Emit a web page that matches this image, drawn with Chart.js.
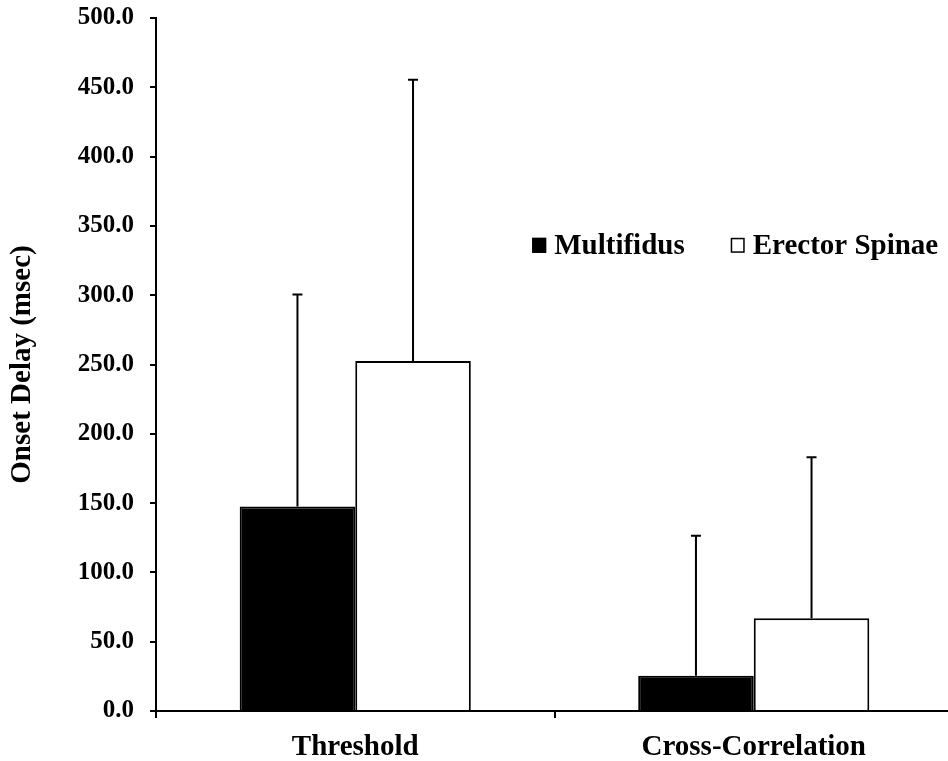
<!DOCTYPE html>
<html>
<head>
<meta charset="utf-8">
<script src="https://cdn.jsdelivr.net/npm/chart.js@4.4.0/dist/chart.umd.min.js"></script>
<style>
  html, body { margin: 0; padding: 0; background: #fff; overflow: hidden; }
  #wrap { width: 956px; height: 761px; position: relative; }
</style>
</head>
<body>
<div id="wrap"><canvas id="chart"></canvas></div>
<script>
// Data
const categories = ['Threshold', 'Cross-Correlation'];
const seriesNames = ['Multifidus', 'Erector Spinae'];
const multifidusMean = [147.5, 25.5];
const multifidusSD = [153.0, 101.0];
const erectorMean = [252.5, 67.0];
const erectorSD = [203.0, 116.0];
const yTicks = [0, 50, 100, 150, 200, 250, 300, 350, 400, 450, 500];

const FONT = 'Liberation Serif, Times New Roman, serif';
const ctx = document.getElementById('chart').getContext('2d');

// error bars, upper side only
const errorBars = {
    id: 'errorBars',
    afterDatasetsDraw(chart) {
        const c = chart.ctx;
        const y = chart.scales.y;
        chart.data.datasets.forEach((ds, i) => {
            const meta = chart.getDatasetMeta(i);
            meta.data.forEach((bar, j) => {
                const top = y.getPixelForValue(ds.data[j] + ds.sd[j]);
                c.save();
                c.strokeStyle = '#000';
                c.lineWidth = 2;
                c.beginPath();
                c.moveTo(bar.x, bar.y);
                c.lineTo(bar.x, top);
                c.moveTo(bar.x - 5, top);
                c.lineTo(bar.x + 5, top);
                c.stroke();
                c.restore();
            });
        });
    }
};

// legend drawn inside the plot
const innerLegend = {
    id: 'innerLegend',
    afterDraw(chart) {
        const c = chart.ctx;
        const area = chart.chartArea;
        let x = area.left + (area.right - area.left) * 0.472;
        const yMid = area.top + (area.bottom - area.top) * 0.328;
        const gaps = [0, 46];
        c.save();
        c.font = 'bold 29px ' + FONT;
        c.textBaseline = 'middle';
        chart.data.datasets.forEach((ds, i) => {
            x += gaps[i];
            c.fillStyle = ds.backgroundColor;
            c.fillRect(x, yMid - 7.5, 14, 15);
            c.strokeStyle = '#000';
            c.lineWidth = 1.5;
            c.strokeRect(x + 0.75, yMid - 6.75, 12.5, 13.5);
            c.fillStyle = '#000';
            c.fillText(ds.label, x + 22, yMid + 1);
            x += 22 + c.measureText(ds.label).width;
        });
        c.restore();
    }
};

new Chart(ctx, {
    type: 'bar',
    data: {
        labels: categories,
        datasets: [
            {
                label: seriesNames[0],
                data: multifidusMean,
                sd: multifidusSD,
                backgroundColor: '#000000',
                borderColor: '#000000',
                borderWidth: 2,
                categoryPercentage: 0.58,
                barPercentage: 1.0
            },
            {
                label: seriesNames[1],
                data: erectorMean,
                sd: erectorSD,
                backgroundColor: '#ffffff',
                borderColor: '#000000',
                borderWidth: 2,
                categoryPercentage: 0.58,
                barPercentage: 1.0
            }
        ]
    },
    options: {
        responsive: true,
        maintainAspectRatio: false,
        animation: false,
        layout: { padding: { top: 18, right: 3, left: 0, bottom: 0 } },
        plugins: {
            legend: { display: false },
            tooltip: { enabled: false }
        },
        scales: {
            x: {
                grid: {
                    offset: true,
                    drawOnChartArea: false,
                    drawTicks: true,
                    tickLength: 7,
                    color: '#000',
                    lineWidth: 2
                },
                border: { display: true, color: '#000', width: 2 },
                ticks: {
                    color: '#000',
                    padding: 12,
                    font: { family: FONT, size: 29, weight: 'bold' }
                },
                afterFit(scale) { scale.height = 50; }
            },
            y: {
                min: 0,
                max: 500,
                afterBuildTicks(scale) {
                    scale.ticks = yTicks.map(v => ({ value: v }));
                },
                grid: {
                    drawOnChartArea: false,
                    drawTicks: true,
                    tickLength: 6,
                    color: '#000',
                    lineWidth: 2
                },
                border: { display: true, color: '#000', width: 2 },
                ticks: {
                    color: '#000',
                    padding: 16,
                    font: { family: FONT, size: 25, weight: 'bold' },
                    callback: (v) => Number(v).toFixed(1)
                },
                title: {
                    display: true,
                    text: 'Onset Delay (msec)',
                    color: '#000',
                    padding: { top: 5, bottom: 0 },
                    font: { family: FONT, size: 29, weight: 'bold' }
                },
                afterFit(scale) {
                    scale.width = 156;
                    scale.paddingTop = 0;
                    scale.paddingBottom = 0;
                }
            }
        }
    },
    plugins: [errorBars, innerLegend]
});
</script>
</body>
</html>
